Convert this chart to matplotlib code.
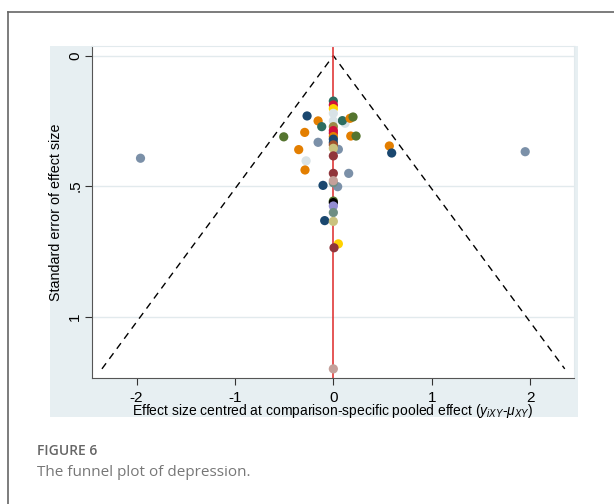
import matplotlib.pyplot as plt
import matplotlib.patches as patches
import numpy as np

plt.rcParams['font.family'] = ['Liberation Sans', 'DejaVu Sans']
plt.rcParams['mathtext.fontset'] = 'custom'
plt.rcParams['mathtext.rm'] = 'Liberation Sans'
plt.rcParams['mathtext.it'] = 'Liberation Sans:italic'

# colours (Stata-like palette)
navy = '#1a476f'
orange = '#e37e00'
olive = '#55752f'
emerald = '#2d6d60'
grayblue = '#7b90a8'
lightgray = '#d8e2e6'
maroon = '#90353b'
red = '#d0103a'
gold = '#ffd200'
khaki = '#cac27e'
brown = '#9c8847'
sienna = '#a0522d'
erose = '#c4a09a'
lavender = '#938dd2'
teal = '#6e8e84'

# studies away from the centre line
x_off = [-1.96, 1.95, -0.267, -0.155, -0.118, -0.504, -0.291, -0.155, -0.352,
         -0.277, -0.288, -0.105, 0.044, 0.156, -0.088, 0.051, 0.119, 0.092,
         0.17, 0.20, 0.177, 0.231, 0.051, 0.569, 0.593]
se_off = [0.393, 0.368, 0.231, 0.250, 0.272, 0.311, 0.294, 0.332, 0.360,
          0.403, 0.438, 0.497, 0.502, 0.451, 0.632, 0.721, 0.259, 0.249,
          0.240, 0.235, 0.308, 0.308, 0.359, 0.346, 0.373]
c_off = [grayblue, grayblue, navy, orange, emerald, olive, orange, grayblue, orange,
         lightgray, orange, navy, grayblue, grayblue, navy, gold, lightgray, emerald,
         orange, olive, orange, olive, grayblue, orange, navy]

# studies sitting on the pooled effect line (x = 0)
x_on = [0.0, 0.0, 0.0, 0.0, 0.0, 0.0, 0.0, 0.0, 0.0, 0.0, 0.0, 0.0,
        0.0, 0.0, 0.0, 0.0, 0.0, 0.0, 0.0, 0.0, 0.0, 0.0, 0.007, 0.0]
se_on = [0.174, 0.189, 0.203, 0.221, 0.250, 0.272, 0.287, 0.297, 0.310, 0.320,
         0.333, 0.342, 0.355, 0.384, 0.451, 0.487, 0.479, 0.557, 0.563, 0.576,
         0.601, 0.635, 0.736, 1.20]
c_on = [emerald, red, gold, lightgray, lightgray, brown, red, red, orange, navy,
        navy, sienna, khaki, maroon, maroon, teal, erose, olive, 'black', lavender,
        teal, khaki, maroon, erose]

se_max = 1.20

fig = plt.figure(figsize=(6.14, 5.04), dpi=100)

# page frame lines (top and left)
fig.add_artist(plt.Line2D([8/614, 1], [1-12/504, 1-12/504], color='#666666', lw=1.2))
fig.add_artist(plt.Line2D([8/614, 8/614], [0, 1-12/504], color='#666666', lw=1.2))

# stata graph region background
fig.add_artist(patches.Rectangle((50/614, 1-417/504), 528/614, 371/504,
                                 facecolor='#e7eff2', edgecolor='none', zorder=0))

ax = fig.add_axes([92/614, 1-378/504, 482/614, 332/504])
ax.set_facecolor('white')

ax.set_xlim(-2.453, 2.446)
ax.set_ylim(1.235, -0.037)

for g in [0, 0.5, 1]:
    ax.axhline(g, color='#e2eaed', lw=1, zorder=1)

# pseudo confidence funnel
ax.plot([-1.96*se_max, 0, 1.96*se_max], [se_max, 0, se_max], color='black',
        ls=(0, (5, 4)), lw=1, zorder=2)
ax.axvline(0, color='#e03a3a', lw=1.2, zorder=2)

ax.scatter(x_off, se_off, c=c_off, s=44, linewidths=0, zorder=3)
ax.scatter(x_on, se_on, c=c_on, s=44, linewidths=0, zorder=4)

ax.set_xticks([-2, -1, 0, 1, 2])
ax.set_xticklabels(['-2', '-1', '0', '1', '2'])
ax.set_yticks([0, 0.5, 1])
ax.set_yticklabels(['0', '.5', '1'], rotation=90, va='center')
ax.tick_params(axis='both', labelsize=11, length=5, width=0.8, colors='#333333',
               labelcolor='black')
ax.tick_params(axis='x', pad=4)
ax.tick_params(axis='y', pad=2)

ax.spines['top'].set_color('#e2eaed')
ax.spines['right'].set_color('#e2eaed')
ax.spines['left'].set_color('#555555')
ax.spines['bottom'].set_color('#555555')

ax.set_xlabel(r'Effect size centred at comparison-specific pooled effect ($y_{iXY}$-$\mu_{XY}$)',
              fontsize=10, labelpad=-2)
ax.set_ylabel('Standard error of effect size', fontsize=10.3, labelpad=4)

fig.text(37/614, 1-451/504, 'FIGURE 6', fontsize=10, color='#666666',
         family=['Open Sans', 'DejaVu Sans'], weight='semibold', va='center')
fig.text(37/614, 1-473/504, 'The funnel plot of depression.', fontsize=11,
         color='#777777', family=['Open Sans', 'DejaVu Sans'], va='center')

fig.savefig('out.png', dpi=100)
